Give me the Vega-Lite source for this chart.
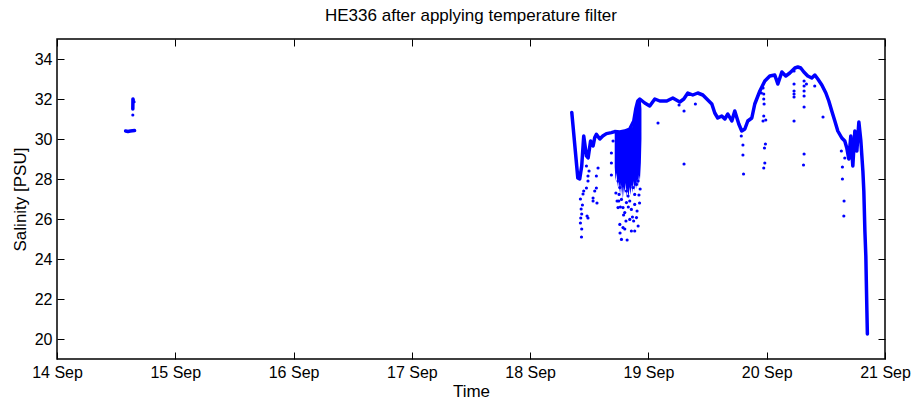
{
  "$schema": "https://vega.github.io/schema/vega-lite/v6.json",
  "width": 828,
  "height": 320,
  "autosize": {"type": "none"},
  "padding": {"left": 57, "top": 39, "right": 32, "bottom": 44},
  "background": "white",
  "title": {"text": "HE336 after applying temperature filter", "fontSize": 17, "font": "Liberation Sans", "fontWeight": "normal", "color": "black", "offset": 14},
  "config": {
    "view": {"stroke": "black", "strokeWidth": 1.5},
    "axis": {"grid": false, "domain": false, "labelFont": "Liberation Sans", "labelFontSize": 16, "labelColor": "black", "tickColor": "black", "tickWidth": 1, "tickSize": -7, "labelFlush": false, "labelOverlap": false, "titleFont": "Liberation Sans", "titleFontSize": 17, "titleFontWeight": "normal", "titleColor": "black"}
  },
  "datasets": {
    "cluster": [
      {"d": 18.715, "lo": 28.6, "hi": 30.3},
      {"d": 18.722, "lo": 27.9, "hi": 30.3},
      {"d": 18.730, "lo": 28.3, "hi": 30.32},
      {"d": 18.738, "lo": 27.6, "hi": 30.33},
      {"d": 18.745, "lo": 28.0, "hi": 30.35},
      {"d": 18.753, "lo": 27.3, "hi": 30.35},
      {"d": 18.760, "lo": 27.8, "hi": 30.35},
      {"d": 18.768, "lo": 27.2, "hi": 30.36},
      {"d": 18.776, "lo": 27.7, "hi": 30.37},
      {"d": 18.784, "lo": 27.0, "hi": 30.38},
      {"d": 18.792, "lo": 27.6, "hi": 30.39},
      {"d": 18.800, "lo": 27.3, "hi": 30.4},
      {"d": 18.808, "lo": 27.8, "hi": 30.4},
      {"d": 18.816, "lo": 27.1, "hi": 30.42},
      {"d": 18.824, "lo": 27.5, "hi": 30.43},
      {"d": 18.832, "lo": 27.0, "hi": 30.45},
      {"d": 18.840, "lo": 27.6, "hi": 30.48},
      {"d": 18.848, "lo": 27.2, "hi": 30.5},
      {"d": 18.856, "lo": 27.7, "hi": 30.55},
      {"d": 18.864, "lo": 27.3, "hi": 30.6},
      {"d": 18.872, "lo": 27.9, "hi": 30.8},
      {"d": 18.880, "lo": 27.4, "hi": 31.0},
      {"d": 18.888, "lo": 27.8, "hi": 31.3},
      {"d": 18.896, "lo": 27.5, "hi": 31.6},
      {"d": 18.904, "lo": 28.0, "hi": 31.8},
      {"d": 18.912, "lo": 27.6, "hi": 31.9},
      {"d": 18.920, "lo": 28.2, "hi": 32.0},
      {"d": 18.928, "lo": 27.9, "hi": 32.0},
      {"d": 18.936, "lo": 28.8, "hi": 31.9},
      {"d": 18.941, "lo": 30.0, "hi": 31.5}
    ],
    "trace": [
      {"seg": "a", "d": 14.580, "s": 30.40},
      {"seg": "a", "d": 14.600, "s": 30.38},
      {"seg": "a", "d": 14.620, "s": 30.40},
      {"seg": "a", "d": 14.656, "s": 30.42},
      {"seg": "b", "d": 14.641, "s": 31.5},
      {"seg": "b", "d": 14.642, "s": 32.0},
      {"seg": "b", "d": 14.646, "s": 31.9},
      {"seg": "b", "d": 14.650, "s": 31.85},
      {"seg": "c", "d": 18.352, "s": 31.33},
      {"seg": "c", "d": 18.403, "s": 28.05},
      {"seg": "c", "d": 18.419, "s": 28.0},
      {"seg": "c", "d": 18.436, "s": 28.65},
      {"seg": "c", "d": 18.453, "s": 30.15},
      {"seg": "c", "d": 18.476, "s": 29.15},
      {"seg": "c", "d": 18.490, "s": 29.05},
      {"seg": "c", "d": 18.511, "s": 29.9},
      {"seg": "c", "d": 18.532, "s": 29.65},
      {"seg": "c", "d": 18.546, "s": 30.07},
      {"seg": "c", "d": 18.560, "s": 30.23},
      {"seg": "c", "d": 18.589, "s": 30.0},
      {"seg": "c", "d": 18.614, "s": 30.15},
      {"seg": "c", "d": 18.645, "s": 30.27},
      {"seg": "c", "d": 18.687, "s": 30.32},
      {"seg": "c", "d": 18.715, "s": 30.37},
      {"seg": "c", "d": 18.758, "s": 30.35},
      {"seg": "c", "d": 18.800, "s": 30.4},
      {"seg": "c", "d": 18.842, "s": 30.5},
      {"seg": "c", "d": 18.876, "s": 30.9},
      {"seg": "c", "d": 18.893, "s": 31.5},
      {"seg": "c", "d": 18.910, "s": 31.9},
      {"seg": "c", "d": 18.927, "s": 32.0},
      {"seg": "c", "d": 18.969, "s": 31.8},
      {"seg": "c", "d": 19.011, "s": 31.65},
      {"seg": "c", "d": 19.054, "s": 32.0},
      {"seg": "c", "d": 19.096, "s": 31.9},
      {"seg": "c", "d": 19.155, "s": 31.9},
      {"seg": "c", "d": 19.206, "s": 32.05},
      {"seg": "c", "d": 19.265, "s": 31.85},
      {"seg": "c", "d": 19.299, "s": 32.0},
      {"seg": "c", "d": 19.333, "s": 32.3},
      {"seg": "c", "d": 19.375, "s": 32.2},
      {"seg": "c", "d": 19.417, "s": 32.3},
      {"seg": "c", "d": 19.460, "s": 32.2},
      {"seg": "c", "d": 19.502, "s": 31.95},
      {"seg": "c", "d": 19.536, "s": 31.75},
      {"seg": "c", "d": 19.561, "s": 31.3},
      {"seg": "c", "d": 19.586, "s": 31.05},
      {"seg": "c", "d": 19.620, "s": 31.15},
      {"seg": "c", "d": 19.646, "s": 31.0},
      {"seg": "c", "d": 19.671, "s": 31.25},
      {"seg": "c", "d": 19.705, "s": 30.9},
      {"seg": "c", "d": 19.730, "s": 31.4},
      {"seg": "c", "d": 19.764, "s": 30.75},
      {"seg": "c", "d": 19.789, "s": 30.4},
      {"seg": "c", "d": 19.815, "s": 30.5},
      {"seg": "c", "d": 19.840, "s": 30.9},
      {"seg": "c", "d": 19.874, "s": 31.05},
      {"seg": "c", "d": 19.899, "s": 31.75},
      {"seg": "c", "d": 19.942, "s": 32.4},
      {"seg": "c", "d": 19.984, "s": 32.9},
      {"seg": "c", "d": 20.026, "s": 33.15},
      {"seg": "c", "d": 20.068, "s": 33.2},
      {"seg": "c", "d": 20.094, "s": 32.75},
      {"seg": "c", "d": 20.128, "s": 33.35},
      {"seg": "c", "d": 20.161, "s": 33.15},
      {"seg": "c", "d": 20.195, "s": 33.3},
      {"seg": "c", "d": 20.238, "s": 33.55},
      {"seg": "c", "d": 20.263, "s": 33.6},
      {"seg": "c", "d": 20.288, "s": 33.55},
      {"seg": "c", "d": 20.314, "s": 33.35},
      {"seg": "c", "d": 20.347, "s": 33.15},
      {"seg": "c", "d": 20.381, "s": 33.05},
      {"seg": "c", "d": 20.407, "s": 33.2},
      {"seg": "c", "d": 20.432, "s": 33.0},
      {"seg": "c", "d": 20.466, "s": 32.7},
      {"seg": "c", "d": 20.500, "s": 32.3},
      {"seg": "c", "d": 20.525, "s": 31.9},
      {"seg": "c", "d": 20.550, "s": 31.4},
      {"seg": "c", "d": 20.576, "s": 30.9},
      {"seg": "c", "d": 20.601, "s": 30.4},
      {"seg": "c", "d": 20.635, "s": 30.05},
      {"seg": "c", "d": 20.660, "s": 29.9},
      {"seg": "c", "d": 20.677, "s": 29.55},
      {"seg": "c", "d": 20.694, "s": 29.0},
      {"seg": "c", "d": 20.711, "s": 30.15},
      {"seg": "c", "d": 20.728, "s": 28.65},
      {"seg": "c", "d": 20.745, "s": 30.4},
      {"seg": "c", "d": 20.762, "s": 29.4},
      {"seg": "c", "d": 20.779, "s": 30.85},
      {"seg": "c", "d": 20.796, "s": 29.9},
      {"seg": "c", "d": 20.813, "s": 28.4},
      {"seg": "c", "d": 20.821, "s": 27.4},
      {"seg": "c", "d": 20.830, "s": 25.4},
      {"seg": "c", "d": 20.838, "s": 24.15},
      {"seg": "c", "d": 20.842, "s": 22.9},
      {"seg": "c", "d": 20.847, "s": 21.4},
      {"seg": "c", "d": 20.851, "s": 20.25}
    ],
    "dots": [
      {"d": 14.641, "s": 31.2},
      {"d": 18.425, "s": 25.8},
      {"d": 18.428, "s": 26.05},
      {"d": 18.436, "s": 26.25},
      {"d": 18.431, "s": 26.5},
      {"d": 18.442, "s": 26.7},
      {"d": 18.425, "s": 27.0},
      {"d": 18.447, "s": 27.25},
      {"d": 18.453, "s": 27.4},
      {"d": 18.476, "s": 27.55},
      {"d": 18.489, "s": 27.9},
      {"d": 18.489, "s": 28.15},
      {"d": 18.498, "s": 28.4},
      {"d": 18.476, "s": 28.65},
      {"d": 18.532, "s": 27.05},
      {"d": 18.546, "s": 27.4},
      {"d": 18.560, "s": 27.55},
      {"d": 18.565, "s": 26.8},
      {"d": 18.532, "s": 26.9},
      {"d": 18.560, "s": 28.15},
      {"d": 18.481, "s": 26.15},
      {"d": 18.489, "s": 26.05},
      {"d": 18.574, "s": 28.55},
      {"d": 18.687, "s": 29.3},
      {"d": 18.687, "s": 28.8},
      {"d": 18.687, "s": 28.2},
      {"d": 18.701, "s": 29.9},
      {"d": 18.434, "s": 25.1},
      {"d": 18.436, "s": 25.5},
      {"d": 18.743, "s": 27.9},
      {"d": 18.758, "s": 27.57},
      {"d": 18.752, "s": 27.23},
      {"d": 18.772, "s": 26.98},
      {"d": 18.743, "s": 26.57},
      {"d": 18.785, "s": 26.57},
      {"d": 18.814, "s": 27.4},
      {"d": 18.828, "s": 27.15},
      {"d": 18.842, "s": 26.9},
      {"d": 18.856, "s": 27.9},
      {"d": 18.870, "s": 27.57},
      {"d": 18.884, "s": 27.23},
      {"d": 18.899, "s": 27.73},
      {"d": 18.913, "s": 27.9},
      {"d": 18.856, "s": 26.48},
      {"d": 18.884, "s": 26.73},
      {"d": 18.758, "s": 25.73},
      {"d": 18.785, "s": 25.57},
      {"d": 18.772, "s": 24.98},
      {"d": 18.842, "s": 25.98},
      {"d": 18.856, "s": 25.4},
      {"d": 18.884, "s": 25.4},
      {"d": 18.913, "s": 25.65},
      {"d": 18.899, "s": 26.07},
      {"d": 18.814, "s": 26.82},
      {"d": 18.800, "s": 26.32},
      {"d": 18.904, "s": 26.4},
      {"d": 18.735, "s": 26.9},
      {"d": 18.785, "s": 27.9},
      {"d": 18.828, "s": 27.73},
      {"d": 18.725, "s": 27.3},
      {"d": 18.749, "s": 26.9},
      {"d": 18.763, "s": 26.6},
      {"d": 18.790, "s": 26.2},
      {"d": 18.810, "s": 25.9},
      {"d": 18.830, "s": 26.6},
      {"d": 18.865, "s": 26.1},
      {"d": 18.875, "s": 25.9},
      {"d": 18.920, "s": 27.2},
      {"d": 18.925, "s": 26.8},
      {"d": 18.930, "s": 27.5},
      {"d": 18.760, "s": 25.3},
      {"d": 18.800, "s": 25.5},
      {"d": 18.820, "s": 24.95},
      {"d": 19.081, "s": 30.8},
      {"d": 19.301, "s": 28.75},
      {"d": 19.259, "s": 31.7},
      {"d": 19.301, "s": 31.4},
      {"d": 19.397, "s": 31.75},
      {"d": 19.785, "s": 30.15},
      {"d": 19.799, "s": 29.7},
      {"d": 19.799, "s": 29.2},
      {"d": 19.804, "s": 28.25},
      {"d": 19.955, "s": 32.3},
      {"d": 19.969, "s": 32.55},
      {"d": 19.975, "s": 32.25},
      {"d": 19.975, "s": 32.0},
      {"d": 19.978, "s": 31.75},
      {"d": 19.975, "s": 31.15},
      {"d": 19.969, "s": 30.9},
      {"d": 19.992, "s": 30.95},
      {"d": 19.989, "s": 29.75},
      {"d": 19.981, "s": 29.55},
      {"d": 19.984, "s": 28.8},
      {"d": 19.975, "s": 28.55},
      {"d": 20.231, "s": 33.4},
      {"d": 20.231, "s": 32.75},
      {"d": 20.231, "s": 32.4},
      {"d": 20.231, "s": 32.25},
      {"d": 20.231, "s": 32.1},
      {"d": 20.231, "s": 30.9},
      {"d": 20.316, "s": 32.9},
      {"d": 20.316, "s": 32.65},
      {"d": 20.316, "s": 32.4},
      {"d": 20.316, "s": 32.15},
      {"d": 20.316, "s": 31.6},
      {"d": 20.316, "s": 29.25},
      {"d": 20.311, "s": 28.7},
      {"d": 20.336, "s": 32.75},
      {"d": 20.406, "s": 32.65},
      {"d": 20.476, "s": 31.1},
      {"d": 20.631, "s": 29.4},
      {"d": 20.640, "s": 28.6},
      {"d": 20.640, "s": 28.0},
      {"d": 20.654, "s": 26.9},
      {"d": 20.652, "s": 26.15},
      {"d": 20.660, "s": 29.05}
    ]
  },
  "layer": [
    {
      "data": {"name": "cluster"},
      "mark": {"type": "area", "color": "#0000ff", "opacity": 1},
      "encoding": {
        "x": {"field": "d", "type": "quantitative", "scale": {"domain": [14, 21], "nice": false, "zero": false},
              "axis": {"values": [14, 15, 16, 17, 18, 19, 20, 21], "labelExpr": "datum.value + ' Sep'", "title": "Time", "labelPadding": 12, "titlePadding": 3}},
        "y": {"field": "lo", "type": "quantitative", "scale": {"domain": [19, 35], "nice": false, "zero": false},
              "axis": {"values": [20, 22, 24, 26, 28, 30, 32, 34], "title": "Salinity [PSU]", "labelPadding": 12, "titlePadding": 5}},
        "y2": {"field": "hi"}
      }
    },
    {
      "data": {"name": "trace"},
      "mark": {"type": "line", "color": "#0000ff", "strokeWidth": 3.5, "strokeJoin": "round", "strokeCap": "round"},
      "encoding": {
        "x": {"field": "d", "type": "quantitative", "axis": {"orient": "top", "values": [14, 15, 16, 17, 18, 19, 20, 21], "labels": false, "title": null}},
        "y": {"field": "s", "type": "quantitative", "axis": {"orient": "right", "values": [20, 22, 24, 26, 28, 30, 32, 34], "labels": false, "title": null}},
        "detail": {"field": "seg", "type": "nominal"}
      }
    },
    {
      "data": {"name": "dots"},
      "mark": {"type": "circle", "color": "#0000ff", "size": 10, "opacity": 1},
      "encoding": {
        "x": {"field": "d", "type": "quantitative", "axis": null},
        "y": {"field": "s", "type": "quantitative", "axis": null}
      }
    }
  ],
  "resolve": {"axis": {"x": "independent", "y": "independent"}}
}
